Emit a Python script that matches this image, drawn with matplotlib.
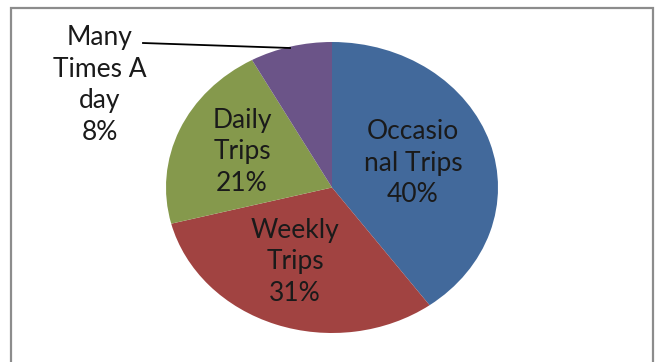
import matplotlib
matplotlib.use('Agg')
import matplotlib.pyplot as plt
from matplotlib.patches import Rectangle

# trip frequency shares (percent)
categories = ['Occasio\nnal Trips', 'Weekly\nTrips', 'Daily\nTrips', 'Many\nTimes A\nday']
shares = [40, 31, 21, 8]
colors = ['#42699b', '#a14341', '#85994c', '#6b5488']

# label centres in pixel space of the 656x362 canvas
label_px = [(413, 163), (295, 262), (242, 152), (100, 85)]

W, H = 656, 362
CX, CY, RX, RY = 332, 187.5, 166, 145.5

plt.rcParams['font.family'] = ['Lato', 'DejaVu Sans']

fig = plt.figure(figsize=(W / 100, H / 100), dpi=100)
fig.patch.set_facecolor('white')

# outer chart border (runs off the bottom edge)
fig.patches.append(Rectangle((11 / W, -0.05), (653 - 11) / W, 1.05 - 8 / H,
                             transform=fig.transFigure, fill=False,
                             edgecolor='#8c8c8c', linewidth=1.6))

ax = fig.add_axes([(CX - RX) / W, (H - CY - RY) / H, 2 * RX / W, 2 * RY / H])
ax.pie(shares, colors=colors, startangle=90, counterclock=False,
       wedgeprops=dict(linewidth=0, edgecolor='none'))
ax.set_aspect('auto')
ax.set_xlim(-1, 1)
ax.set_ylim(-1, 1)
ax.axis('off')


def to_data(px, py):
    return (px - CX) / RX, (CY - py) / RY


for name, val, (px, py) in zip(categories, shares, label_px):
    x, y = to_data(px, py)
    ax.text(x, y, f'{name}\n{val}%', ha='center', va='center', fontsize=19,
            color='#1a1a1a', linespacing=1.32, clip_on=False)

# leader line for the small slice
x0, y0 = to_data(143, 43)
x1, y1 = to_data(290, 48)
ax.plot([x0, x1], [y0, y1], color='black', linewidth=1.3, clip_on=False)

fig.savefig('out.png', dpi=100, facecolor='white')
